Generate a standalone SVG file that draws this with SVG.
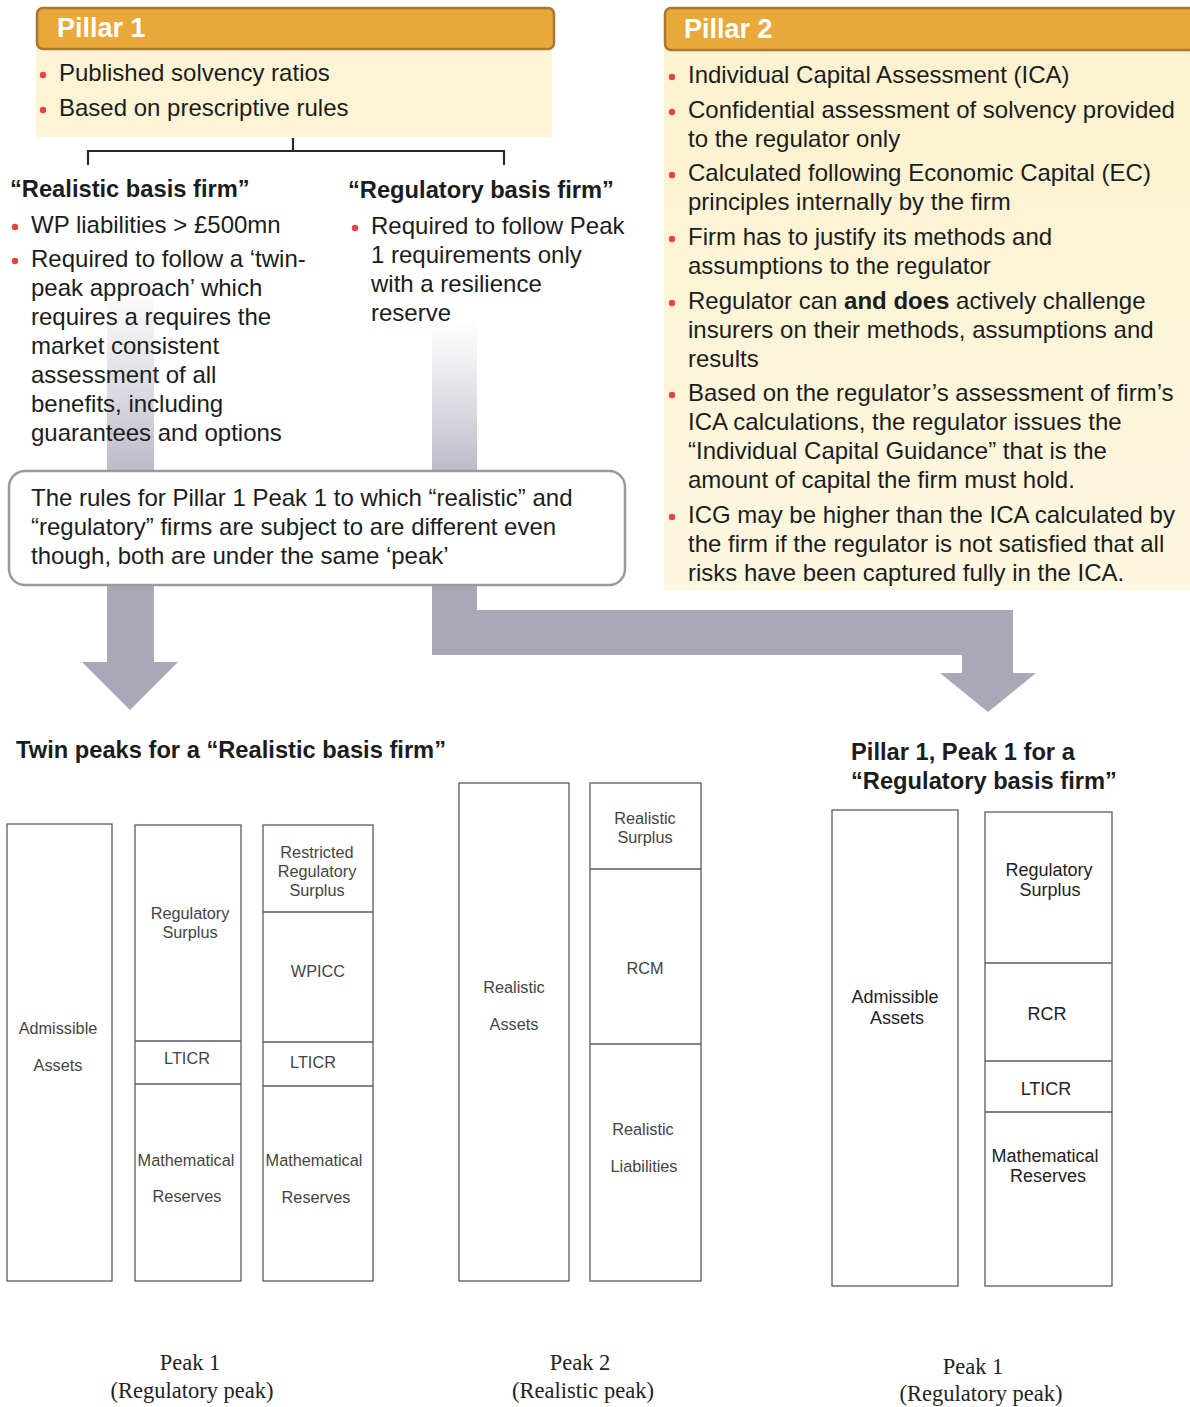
<svg xmlns="http://www.w3.org/2000/svg" width="1190" height="1407" viewBox="0 0 1190 1407">
<style>
.t{font-family:"Liberation Sans",Arial,sans-serif;font-size:24px;fill:#1c1c1c}
.b{font-weight:bold}
.hd{font-family:"Liberation Sans",Arial,sans-serif;font-size:27px;font-weight:bold;fill:#ffffff}
.h2{font-family:"Liberation Sans",Arial,sans-serif;font-size:23.7px;font-weight:bold;fill:#1c1c1c}
.dot{fill:#e0453f}
.hbar{fill:#e9a83a;stroke:#a8792c;stroke-width:2.5}
.body{fill:#fcf4d4}
.col{fill:#ffffff;stroke:#5a5a6a;stroke-width:1.3}
.div{stroke:#5a5a6a;stroke-width:1.3}
.lb{font-family:"Liberation Sans",Arial,sans-serif;font-size:16.3px;fill:#444;text-anchor:middle}
.lb2{font-family:"Liberation Sans",Arial,sans-serif;font-size:18px;fill:#222;text-anchor:middle}
.pk{font-family:"Liberation Serif","Times New Roman",serif;font-size:22.5px;fill:#222;text-anchor:middle}
.arr{fill:#a9a7b8}
</style>
<defs>
<linearGradient id="fade" x1="0" y1="0" x2="0" y2="1">
<stop offset="0" stop-color="#c9c8d0" stop-opacity="0"/>
<stop offset="1" stop-color="#bdbbc8" stop-opacity="1"/>
</linearGradient>
<linearGradient id="p2bg" x1="0" y1="0" x2="0" y2="1">
<stop offset="0" stop-color="#fcf2cf"/>
<stop offset="1" stop-color="#fdf7e0"/>
</linearGradient>
</defs>
<rect width="1190" height="1407" fill="#ffffff"/>

<!-- connectors -->
<g id="connectors">
<path d="M88,165 V151 H504 V165 M293,151 V138" fill="none" stroke="#2a2a2a" stroke-width="2.2"/>
<rect x="107" y="280" width="47" height="190" fill="url(#fade)"/>
<rect x="432" y="320" width="45" height="150" fill="url(#fade)"/>
<path class="arr" d="M107,585 H154 V662 H178 L130,710 L82,662 H107 Z"/>
<path class="arr" d="M432,585 H477 V610 H1013 V673 H1036 L988,712 L940,673 H962 V655 H432 Z"/>
</g>

<!-- Pillar 1 -->
<g id="pillar1">
<rect class="body" x="36" y="48" width="516" height="89"/>
<rect class="hbar" x="37" y="8" width="517" height="41" rx="6"/>
<text class="hd" x="57" y="37">Pillar 1</text>
<circle class="dot" cx="43" cy="75" r="3.2"/>
<text class="t" x="59" y="81">Published solvency ratios</text>
<circle class="dot" cx="43" cy="110" r="3.2"/>
<text class="t" x="59" y="116">Based on prescriptive rules</text>
</g>

<!-- Pillar 2 -->
<g id="pillar2">
<rect x="664" y="48" width="526" height="542" fill="url(#p2bg)"/>
<rect class="hbar" x="665" y="8" width="530" height="42" rx="6"/>
<text class="hd" x="684" y="38">Pillar 2</text>
<circle class="dot" cx="672" cy="77" r="3.2"/>
<text class="t" x="688" y="83">Individual Capital Assessment (ICA)</text>
<circle class="dot" cx="672" cy="112" r="3.2"/>
<text class="t" x="688" y="118">Confidential assessment of solvency provided</text>
<text class="t" x="688" y="147">to the regulator only</text>
<circle class="dot" cx="672" cy="175" r="3.2"/>
<text class="t" x="688" y="181">Calculated following Economic Capital (EC)</text>
<text class="t" x="688" y="210">principles internally by the firm</text>
<circle class="dot" cx="672" cy="239" r="3.2"/>
<text class="t" x="688" y="245">Firm has to justify its methods and</text>
<text class="t" x="688" y="274">assumptions to the regulator</text>
<circle class="dot" cx="672" cy="303" r="3.2"/>
<text class="t" x="688" y="309">Regulator can <tspan class="b">and does</tspan> actively challenge</text>
<text class="t" x="688" y="338">insurers on their methods, assumptions and</text>
<text class="t" x="688" y="367">results</text>
<circle class="dot" cx="672" cy="395" r="3.2"/>
<text class="t" x="688" y="401">Based on the regulator’s assessment of firm’s</text>
<text class="t" x="688" y="430">ICA calculations, the regulator issues the</text>
<text class="t" x="688" y="459">“Individual Capital Guidance” that is the</text>
<text class="t" x="688" y="488">amount of capital the firm must hold.</text>
<circle class="dot" cx="672" cy="517" r="3.2"/>
<text class="t" x="688" y="523">ICG may be higher than the ICA calculated by</text>
<text class="t" x="688" y="552">the firm if the regulator is not satisfied that all</text>
<text class="t" x="688" y="581">risks have been captured fully in the ICA.</text>
</g>

<!-- Realistic basis firm -->
<g id="realistic-firm">
<text class="h2" x="10" y="197">“Realistic basis firm”</text>
<circle class="dot" cx="15" cy="227" r="3.2"/>
<text class="t" x="31" y="233">WP liabilities &gt; £500mn</text>
<circle class="dot" cx="15" cy="261" r="3.2"/>
<text class="t" x="31" y="267">Required to follow a ‘twin-</text>
<text class="t" x="31" y="296">peak approach’ which</text>
<text class="t" x="31" y="325">requires a requires the</text>
<text class="t" x="31" y="354">market consistent</text>
<text class="t" x="31" y="383">assessment of all</text>
<text class="t" x="31" y="412">benefits, including</text>
<text class="t" x="31" y="441">guarantees and options</text>
</g>

<!-- Regulatory basis firm -->
<g id="regulatory-firm">
<text class="h2" x="348" y="198">“Regulatory basis firm”</text>
<circle class="dot" cx="355" cy="228" r="3.2"/>
<text class="t" x="371" y="234">Required to follow Peak</text>
<text class="t" x="371" y="263">1 requirements only</text>
<text class="t" x="371" y="292">with a resilience</text>
<text class="t" x="371" y="321">reserve</text>
</g>

<!-- Note box -->
<g id="note">
<rect x="9" y="471" width="616" height="114" rx="16" fill="#ffffff" stroke="#9a9a9e" stroke-width="2.5"/>
<text class="t" x="31" y="506">The rules for Pillar 1 Peak 1 to which “realistic” and</text>
<text class="t" x="31" y="535">“regulatory” firms are subject to are different even</text>
<text class="t" x="31" y="564">though, both are under the same ‘peak’</text>
</g>

<!-- Twin peaks heading -->
<g id="twin-peaks-title">
<text class="h2" x="16" y="758">Twin peaks for a “Realistic basis firm”</text>
</g>

<!-- Peak 1 (realistic firm) -->
<g id="peak1-realistic">
<rect class="col" x="7" y="824" width="105" height="457" fill="#f3f3f3"/>
<text class="lb" x="58" y="1034">Admissible</text>
<text class="lb" x="58" y="1071">Assets</text>
<rect class="col" x="135" y="825" width="106" height="456"/>
<line class="div" x1="135" y1="1041" x2="241" y2="1041"/>
<line class="div" x1="135" y1="1084" x2="241" y2="1084"/>
<text class="lb" x="190" y="919">Regulatory</text>
<text class="lb" x="190" y="938">Surplus</text>
<text class="lb" x="187" y="1064">LTICR</text>
<text class="lb" x="186" y="1166">Mathematical</text>
<text class="lb" x="187" y="1202">Reserves</text>
<rect class="col" x="263" y="825" width="110" height="456"/>
<line class="div" x1="263" y1="912" x2="373" y2="912"/>
<line class="div" x1="263" y1="1042" x2="373" y2="1042"/>
<line class="div" x1="263" y1="1086" x2="373" y2="1086"/>
<text class="lb" x="317" y="858">Restricted</text>
<text class="lb" x="317" y="877">Regulatory</text>
<text class="lb" x="317" y="896">Surplus</text>
<text class="lb" x="318" y="977">WPICC</text>
<text class="lb" x="313" y="1068">LTICR</text>
<text class="lb" x="314" y="1166">Mathematical</text>
<text class="lb" x="316" y="1203">Reserves</text>
<text class="pk" x="190" y="1370">Peak 1</text>
<text class="pk" x="192" y="1398">(Regulatory peak)</text>
</g>

<!-- Peak 2 (realistic firm) -->
<g id="peak2-realistic">
<rect class="col" x="459" y="783" width="110" height="498"/>
<text class="lb" x="514" y="993">Realistic</text>
<text class="lb" x="514" y="1030">Assets</text>
<rect class="col" x="590" y="783" width="111" height="498"/>
<line class="div" x1="590" y1="869" x2="701" y2="869"/>
<line class="div" x1="590" y1="1044" x2="701" y2="1044"/>
<text class="lb" x="645" y="824">Realistic</text>
<text class="lb" x="645" y="843">Surplus</text>
<text class="lb" x="645" y="974">RCM</text>
<text class="lb" x="643" y="1135">Realistic</text>
<text class="lb" x="644" y="1172">Liabilities</text>
<text class="pk" x="580" y="1370">Peak 2</text>
<text class="pk" x="583" y="1398">(Realistic peak)</text>
</g>

<!-- Pillar 1 Peak 1 for regulatory firm -->
<g id="peak1-regulatory">
<text class="h2" x="851" y="760">Pillar 1, Peak 1 for a</text>
<text class="h2" x="851" y="789">“Regulatory basis firm”</text>
<rect class="col" x="832" y="810" width="126" height="476"/>
<text class="lb2" x="895" y="1003">Admissible</text>
<text class="lb2" x="897" y="1024">Assets</text>
<rect class="col" x="985" y="812" width="127" height="474"/>
<line class="div" x1="985" y1="963" x2="1112" y2="963"/>
<line class="div" x1="985" y1="1061" x2="1112" y2="1061"/>
<line class="div" x1="985" y1="1112" x2="1112" y2="1112"/>
<text class="lb2" x="1049" y="876">Regulatory</text>
<text class="lb2" x="1050" y="896">Surplus</text>
<text class="lb2" x="1047" y="1020">RCR</text>
<text class="lb2" x="1046" y="1095">LTICR</text>
<text class="lb2" x="1045" y="1162">Mathematical</text>
<text class="lb2" x="1048" y="1182">Reserves</text>
<text class="pk" x="973" y="1374">Peak 1</text>
<text class="pk" x="981" y="1401">(Regulatory peak)</text>
</g>
</svg>
